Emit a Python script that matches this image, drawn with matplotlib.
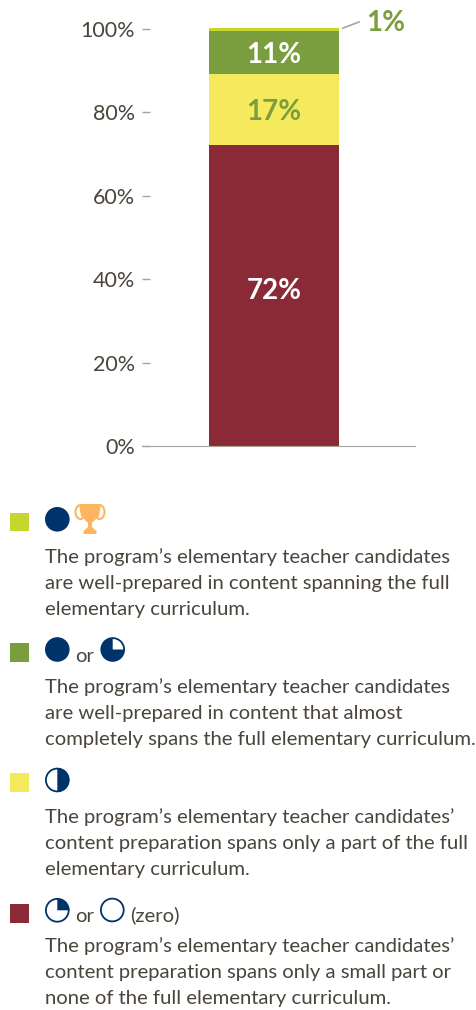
import matplotlib
matplotlib.use('Agg')
import matplotlib.pyplot as plt
from matplotlib.patches import Circle, Wedge, Rectangle, Polygon, Ellipse

W, H = 477, 1010

# Data
segments = ['zero or quarter', 'half', 'three quarter or full', 'full and trophy']
values = [72.2, 17, 10.3, 0.7]
seg_colors = ['#8B2A37', '#F5EA5E', '#7A9E3D', '#C6D62E']
seg_labels = ['72%', '17%', '11%', '1%']
label_colors = ['white', '#7A9E3D', 'white', '#7A9E3D']
ticks = [0, 20, 40, 60, 80, 100]
tick_labels = ['0%', '20%', '40%', '60%', '80%', '100%']

legend_text = [
    ["The program\u2019s elementary teacher candidates", "are well-prepared in content spanning the full", "elementary curriculum."],
    ["The program\u2019s elementary teacher candidates", "are well-prepared in content that almost", "completely spans the full elementary curriculum."],
    ["The program\u2019s elementary teacher candidates\u2019", "content preparation spans only a part of the full", "elementary curriculum."],
    ["The program\u2019s elementary teacher candidates\u2019", "content preparation spans only a small part or", "none of the full elementary curriculum."],
]
legend_colors = ['#C6D62E', '#7A9E3D', '#F5EA5E', '#8B2A37']

plt.rcParams['font.family'] = ['Lato', 'DejaVu Sans']

TEXT = '#4A453C'
NAVY = '#00336A'
GOLD = '#FDB55F'
LEG_SIZE = 14.6

fig = plt.figure(figsize=(W / 100, H / 100), dpi=100)

# chart axes, placed by pixels
ax = fig.add_axes([142 / W, 1 - 446 / H, (415 - 142) / W, 446 / H])
ax.set_ylim(0, 446 / 417 * 100)
ax.set_xlim(0, 273)
label_shift = [1.0, -0.7, -0.5, 0]  # labels do not sit exactly mid-segment
bottom = 0
for v, c, lab, lc, sh in zip(values, seg_colors, seg_labels, label_colors, label_shift):
    ax.bar(132, v, width=130, bottom=bottom, color=c)
    if lab != '1%':
        ax.text(132, bottom + v / 2 + sh, lab, color=lc, ha='center', va='center',
                fontsize=20, fontweight='bold')
    bottom += v
ax.set_yticks(ticks)
ax.set_yticklabels(tick_labels, fontsize=15.5, color=TEXT)
ax.set_xticks([])
ax.tick_params(axis='y', direction='in', length=6, width=1, color='#A8A39B', pad=5)
for s in ['top', 'right', 'left']:
    ax.spines[s].set_visible(False)
ax.spines['bottom'].set_color('#A8A39B')
ax.patch.set_alpha(0)
# callout for the 1% segment
ax.plot([201, 217], [100.2, 101.7], color='#A8A39B', lw=1.2, clip_on=False)
ax.text(224, 101.5, '1%', color='#7A9E3D', fontsize=20, fontweight='bold', va='center')

# legend in pixel coordinates
lg = fig.add_axes([0, 0, 1, 1])
lg.set_xlim(0, W)
lg.set_ylim(H, 0)
lg.axis('off')
lg.patch.set_alpha(0)


def full(x, y):
    lg.add_patch(Circle((x, y), 12.3, fc=NAVY, ec='none'))


def part(x, y, t1=None, t2=None):
    # y axis runs downward here, so wedge angles go clockwise on screen
    lg.add_patch(Circle((x, y), 11.4, fc='white', ec=NAVY, lw=1.3))
    if t1 is not None:
        lg.add_patch(Wedge((x, y), 12, t1, t2, fc=NAVY, ec='none'))


def three_quarter(x, y):
    lg.add_patch(Circle((x, y), 12.3, fc=NAVY, ec='none'))
    lg.add_patch(Wedge((x, y), 10.5, 270, 360, fc='white', ec='none'))


def trophy(x, y):
    lg.add_patch(Ellipse((x - 9.5, y - 7), 10, 14, fc='none', ec=GOLD, lw=1.5))
    lg.add_patch(Ellipse((x + 9.5, y - 7), 10, 14, fc='none', ec=GOLD, lw=1.5))
    lg.add_patch(Polygon([(x - 11, y - 15), (x + 11, y - 15), (x + 9, y - 3), (x + 2, y + 4), (x + 2, y + 8),
                          (x + 6.5, y + 12), (x + 6.5, y + 15), (x - 6.5, y + 15), (x - 6.5, y + 12),
                          (x - 2, y + 8), (x - 2, y + 4), (x - 9, y - 3)],
                         fc=GOLD, ec='none'))


square_y = [522, 652.5, 782.5, 913.5]
text_y = [563, 693, 823, 952]
for sy, ty, c, lines in zip(square_y, text_y, legend_colors, legend_text):
    lg.add_patch(Rectangle((10, sy - 9.25), 19, 18.5, fc=c, ec='none'))
    for i, line in enumerate(lines):
        lg.text(45, ty + 26 * i, line, fontsize=LEG_SIZE, color=TEXT, va='baseline')

full(57.3, 519.3)
trophy(90, 519)
full(57.3, 649.5)
lg.text(75.5, 662, 'or', fontsize=LEG_SIZE, color=TEXT, va='baseline')
three_quarter(112.7, 649.5)
part(57.3, 780, 270, 90)
part(57.3, 910.3, 270, 360)
lg.text(75.5, 921.5, 'or', fontsize=LEG_SIZE, color=TEXT, va='baseline')
part(112.3, 910)
lg.text(130.5, 921.5, '(zero)', fontsize=LEG_SIZE, color=TEXT, va='baseline')

fig.savefig('out.png', dpi=100)
